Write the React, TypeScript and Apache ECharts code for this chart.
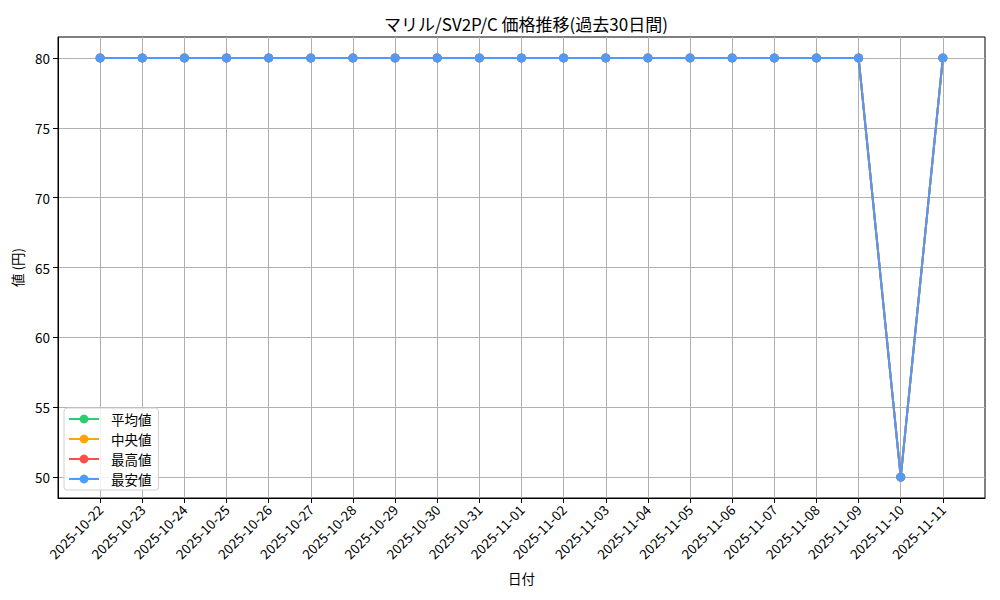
import * as echarts from "echarts";
import { useEffect, useRef } from "react";

const dates = [
    "2025-10-22", "2025-10-23", "2025-10-24", "2025-10-25", "2025-10-26",
    "2025-10-27", "2025-10-28", "2025-10-29", "2025-10-30", "2025-10-31",
    "2025-11-01", "2025-11-02", "2025-11-03", "2025-11-04", "2025-11-05",
    "2025-11-06", "2025-11-07", "2025-11-08", "2025-11-09", "2025-11-10",
    "2025-11-11"
];

const avgPrices = [80, 80, 80, 80, 80, 80, 80, 80, 80, 80, 80, 80, 80, 80, 80, 80, 80, 80, 80, 50, 80];
const medianPrices = [80, 80, 80, 80, 80, 80, 80, 80, 80, 80, 80, 80, 80, 80, 80, 80, 80, 80, 80, 50, 80];
const maxPrices = [80, 80, 80, 80, 80, 80, 80, 80, 80, 80, 80, 80, 80, 80, 80, 80, 80, 80, 80, 50, 80];
const minPrices = [80, 80, 80, 80, 80, 80, 80, 80, 80, 80, 80, 80, 80, 80, 80, 80, 80, 80, 80, 50, 80];

const yTicks = [50, 55, 60, 65, 70, 75, 80];

const seriesNames = ["平均値", "中央値", "最高値", "最安値"];
const seriesColors = ["#2ECC71", "#FFA500", "#FF4D4D", "#4D9BFF"];

const FONT = "'Noto Sans CJK JP', sans-serif";

export default function App() {
    const chartRef = useRef<HTMLDivElement>(null);

    useEffect(() => {
        if (!chartRef.current) return;
        document.body.style.margin = "0";

        const chart = echarts.init(chartRef.current, null, { renderer: "svg" });
        const allValues = [avgPrices, medianPrices, maxPrices, minPrices];
        const xIdx = dates.map((_, i) => i);

        const option: echarts.EChartsOption = {
            animation: false,
            backgroundColor: "#fff",
            textStyle: { fontFamily: FONT },
            title: {
                text: "マリル/SV2P/C 価格推移(過去30日間)",
                left: 521,
                textAlign: "center",
                top: 10,
                textStyle: {
                    fontFamily: FONT,
                    fontSize: 17,
                    fontWeight: "normal",
                    color: "#000"
                }
            },
            grid: {
                left: 58,
                right: 15,
                top: 37,
                bottom: 102,
                show: true,
                borderColor: "#000",
                borderWidth: 1,
                backgroundColor: "transparent"
            },
            legend: {
                orient: "vertical",
                left: 64,
                top: 408,
                itemWidth: 30,
                itemHeight: 11,
                itemGap: 6,
                padding: [4, 7, 4, 4],
                backgroundColor: "rgba(255,255,255,0.85)",
                borderColor: "#d0d0d0",
                borderWidth: 1,
                borderRadius: 3,
                textStyle: {
                    fontFamily: FONT,
                    fontSize: 13.5,
                    lineHeight: 14,
                    color: "#000",
                    padding: [0, 0, 0, 7]
                },
                data: seriesNames
            },
            xAxis: {
                type: "value",
                min: -1,
                max: 21,
                interval: 1,
                name: "日付",
                nameLocation: "middle",
                nameGap: 73,
                nameTextStyle: { fontFamily: FONT, fontSize: 13.5, color: "#000" },
                axisLine: { show: true, onZero: false, lineStyle: { color: "#000" } },
                axisTick: {
                    show: true,
                    length: 5,
                    lineStyle: { color: "#000" },
                    customValues: xIdx
                },
                axisLabel: {
                    rotate: 45,
                    fontFamily: FONT,
                    fontSize: 13.5,
                    color: "#000",
                    margin: 9,
                    customValues: xIdx,
                    formatter: (v: number) => dates[Math.round(v)] ?? ""
                },
                splitLine: { show: true, lineStyle: { color: "#b0b0b0", width: 1 } }
            },
            yAxis: {
                type: "value",
                min: 48.5,
                max: 81.5,
                name: "値 (円)",
                nameLocation: "middle",
                nameGap: 33,
                nameTextStyle: { fontFamily: FONT, fontSize: 13.5, color: "#000" },
                axisLine: { show: true, onZero: false, lineStyle: { color: "#000" } },
                axisTick: {
                    show: true,
                    length: 5,
                    lineStyle: { color: "#000" },
                    customValues: yTicks
                },
                axisLabel: {
                    fontFamily: FONT,
                    fontSize: 13.5,
                    color: "#000",
                    margin: 8,
                    customValues: yTicks
                },
                splitLine: { show: true, lineStyle: { color: "#b0b0b0", width: 1 } }
            },
            series: seriesNames.map((name, s) => ({
                name,
                type: "line",
                data: allValues[s].map((v, i) => [i, v]),
                symbol: "circle",
                symbolSize: 9,
                color: seriesColors[s],
                lineStyle: { width: 2, color: seriesColors[s] },
                itemStyle: { color: seriesColors[s] }
            }))
        };

        chart.setOption(option);

        return () => {
            chart.dispose();
        };
    }, []);

    return <div ref={chartRef} style={{ width: 1000, height: 600 }} />;
}
